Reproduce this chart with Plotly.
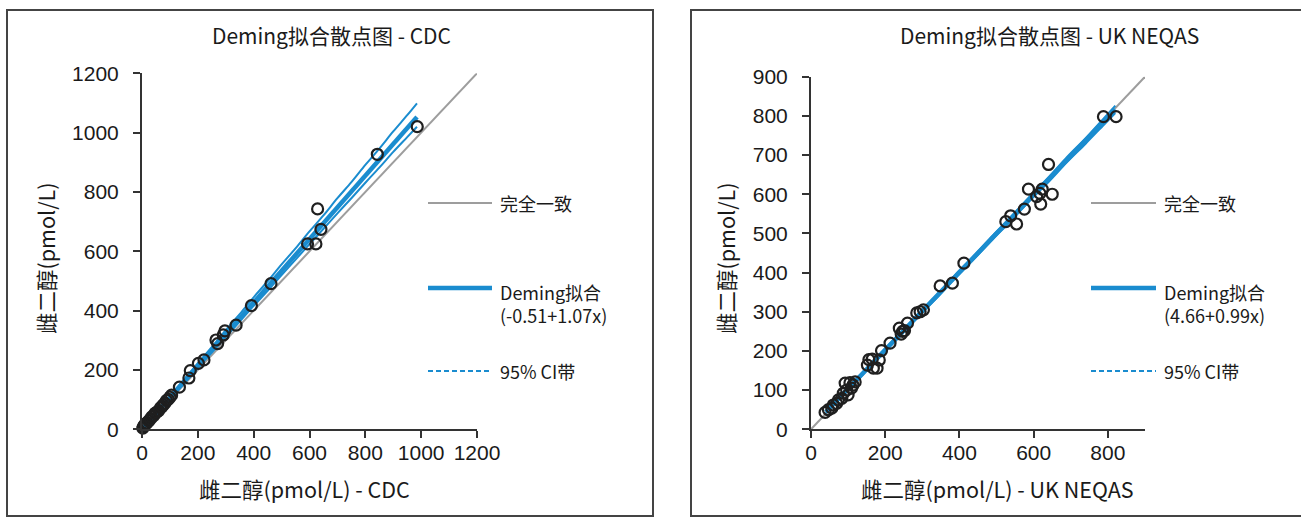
import plotly.graph_objects as go

W, H = 1301, 517

# ---------------- data: CDC panel ----------------
cdc_x = [3, 5, 8, 11, 14, 18, 24, 30, 35, 42, 47, 53, 60, 66, 71, 76, 82, 88, 94, 100, 106,
         134, 168, 173, 202, 222, 265, 271, 291, 297, 337, 392, 462, 593, 623, 629, 641, 843, 986]
cdc_y = [4, 9, 12, 17, 19, 22, 28, 35, 42, 46, 54, 58, 63, 72, 76, 82, 88, 97, 101, 108, 115,
         142, 173, 198, 222, 234, 301, 289, 318, 332, 351, 417, 491, 625, 625, 743, 674, 927, 1020]
cdc_identity = [0, 1200]
cdc_fit_x = [3, 985]
cdc_fit_y = [2.7, 1053]
cdc_ci_x = [0, 50, 100, 150, 200, 250, 300, 350, 400, 450, 500, 550, 600, 650, 700, 750, 800,
            850, 900, 950, 985]
cdc_ci_up = [2, 57, 112, 167, 223, 277, 334, 388, 445, 499, 556, 610, 667, 721, 779, 833, 891,
             946, 1004, 1059, 1099]
cdc_ci_lo = [-3, 50, 103, 154, 207, 259, 311, 363, 416, 467, 520, 572, 624, 676, 728, 779, 831,
             882, 935, 985, 1020]
cdc_ticks = [0, 200, 400, 600, 800, 1000, 1200]

# ---------------- data: UK NEQAS panel ----------------
uk_x = [38, 47, 56, 60, 69, 74, 83, 87, 92, 96, 100, 105, 109, 113, 119, 152, 156, 165, 168, 178,
        184, 190, 213, 238, 243, 247, 252, 260, 285, 294, 303, 348, 381, 412, 525, 538, 554,
        575, 586, 608, 617, 619, 623, 640, 650, 788, 822]
uk_y = [43, 50, 54, 62, 66, 75, 79, 92, 118, 100, 88, 119, 105, 113, 121, 164, 178, 179, 156, 156,
        177, 201, 220, 258, 243, 250, 252, 271, 297, 300, 305, 366, 373, 424, 530, 545, 524,
        562, 613, 594, 602, 575, 613, 676, 600, 798, 798]
uk_identity = [0, 900]
uk_fit_x = [40, 820]
uk_fit_y = [44.3, 816.5]
uk_ci_x = [40, 90, 140, 190, 240, 290, 340, 390, 440, 490, 540, 590, 640, 690, 740, 790, 820]
uk_ci_up = [46, 97, 145, 197, 245, 296, 344, 396, 444, 495, 543, 595, 643, 695, 743, 795, 826]
uk_ci_lo = [42, 92, 140, 190, 238, 289, 336, 387, 435, 485, 533, 584, 631, 682, 729, 778, 807]
uk_ticks = [0, 100, 200, 300, 400, 500, 600, 700, 800, 900]
uk_xticks = [0, 200, 400, 600, 800]

# ---------------- texts ----------------
titles = ["Deming拟合散点图 - CDC", "Deming拟合散点图 - UK NEQAS"]
x_titles = ["雌二醇(pmol/L) - CDC", "雌二醇(pmol/L) - UK NEQAS"]
y_title = "雌二醇(pmol/L)"
leg_identity = "完全一致"
leg_fit = ["Deming拟合<br>(-0.51+1.07x)", "Deming拟合<br>(4.66+0.99x)"]
leg_ci = "95% CI带"

GRAY = "#9d9d9d"
BLUE = "#1a8ccf"
DARK = "#1a1a1a"
CJK = "Noto Sans CJK SC"
NUM = "Liberation Sans, Arial"


def px(x):
    return x / W


def py(y):
    return 1 - y / H


fig = go.Figure()


def add_panel(ax, ay, ident, ci_x, ci_up, ci_lo, fx, fy, sx, sy):
    fig.add_trace(go.Scatter(x=ident, y=ident, mode="lines", line=dict(color=GRAY, width=2),
                             xaxis=ax, yaxis=ay, hoverinfo="skip", showlegend=False))
    for arr in (ci_up, ci_lo):
        fig.add_trace(go.Scatter(x=ci_x, y=arr, mode="lines", line=dict(color=BLUE, width=2, shape="spline"),
                                 xaxis=ax, yaxis=ay, hoverinfo="skip", showlegend=False))
    fig.add_trace(go.Scatter(x=fx, y=fy, mode="lines", line=dict(color=BLUE, width=4.5),
                             xaxis=ax, yaxis=ay, hoverinfo="skip", showlegend=False))
    fig.add_trace(go.Scatter(x=sx, y=sy, mode="markers", cliponaxis=False,
                             marker=dict(symbol="circle-open", size=11, color="#1f1f1f",
                                         line=dict(width=2.2, color="#1f1f1f")),
                             xaxis=ax, yaxis=ay, showlegend=False))


add_panel("x", "y", cdc_identity, cdc_ci_x, cdc_ci_up, cdc_ci_lo, cdc_fit_x, cdc_fit_y, cdc_x, cdc_y)
add_panel("x2", "y2", uk_identity, uk_ci_x, uk_ci_up, uk_ci_lo, uk_fit_x, uk_fit_y, uk_x, uk_y)

axis_common = dict(showline=True, linecolor="#333333", linewidth=2, ticks="outside", ticklen=7,
                   tickwidth=2, tickcolor="#333333", showgrid=False, zeroline=False, automargin=False,
                   tickfont=dict(family=NUM, size=21, color=DARK), fixedrange=True)

fig.update_layout(
    width=W, height=H, margin=dict(l=0, r=0, t=0, b=0, pad=0, autoexpand=False),
    paper_bgcolor="white", plot_bgcolor="white", showlegend=False,
    xaxis=dict(axis_common, domain=[px(142), px(477)], range=[0, 1200], tickvals=cdc_ticks,
               anchor="y", ticklabelstandoff=-4),
    yaxis=dict(axis_common, domain=[py(429.3), py(73.3)], range=[0, 1200], tickvals=cdc_ticks,
               anchor="x", ticklabelstandoff=10),
    xaxis2=dict(axis_common, domain=[px(811), px(1145)], range=[0, 900], tickvals=uk_xticks,
                anchor="y2", ticklabelstandoff=-4),
    yaxis2=dict(axis_common, domain=[py(429.3), py(76.7)], range=[0, 900], tickvals=uk_ticks,
                anchor="x2", ticklabelstandoff=10),
)

shapes = []
# panel borders
shapes.append(dict(type="rect", xref="paper", yref="paper", x0=px(7), x1=px(653), y0=py(516), y1=py(10),
                   line=dict(color="#444444", width=2), fillcolor="rgba(0,0,0,0)", layer="below"))
shapes.append(dict(type="rect", xref="paper", yref="paper", x0=px(691), x1=px(1320), y0=py(516), y1=py(10),
                   line=dict(color="#444444", width=2), fillcolor="rgba(0,0,0,0)", layer="below"))

annotations = []
legend_pos = [(428, 492, 498), (1091, 1156, 1162)]
title_cx = [331, 1049]
xt_cx = [304, 997]
yt_cx = [45, 725]
for i in range(2):
    l0, l1, tx = legend_pos[i]
    shapes.append(dict(type="line", xref="paper", yref="paper", x0=px(l0), x1=px(l1), y0=py(203), y1=py(203),
                       line=dict(color=GRAY, width=2)))
    shapes.append(dict(type="line", xref="paper", yref="paper", x0=px(l0), x1=px(l1), y0=py(288), y1=py(288),
                       line=dict(color=BLUE, width=4.5)))
    shapes.append(dict(type="line", xref="paper", yref="paper", x0=px(l0), x1=px(l1), y0=py(371), y1=py(371),
                       line=dict(color=BLUE, width=2, dash="5px,3px")))
    annotations.append(dict(text=leg_identity, x=px(tx), y=py(203), xref="paper", yref="paper",
                            xanchor="left", yanchor="middle", showarrow=False,
                            font=dict(family=CJK, size=18, color=DARK)))
    annotations.append(dict(text=leg_fit[i], x=px(tx), y=py(276.5), xref="paper", yref="paper",
                            xanchor="left", yanchor="top", align="left", showarrow=False,
                            font=dict(family=CJK, size=18, color=DARK)))
    annotations.append(dict(text=leg_ci, x=px(tx), y=py(371), xref="paper", yref="paper",
                            xanchor="left", yanchor="middle", showarrow=False,
                            font=dict(family=CJK, size=18, color=DARK)))
    annotations.append(dict(text=titles[i], x=px(title_cx[i]), y=py(35), xref="paper", yref="paper",
                            xanchor="center", yanchor="middle", showarrow=False,
                            font=dict(family=CJK, size=21, color=DARK)))
    annotations.append(dict(text=x_titles[i], x=px(xt_cx[i]), y=py(488), xref="paper", yref="paper",
                            xanchor="center", yanchor="middle", showarrow=False,
                            font=dict(family=CJK, size=21.5, color=DARK)))
    annotations.append(dict(text=y_title, x=px(yt_cx[i]), y=py(258), xref="paper", yref="paper",
                            xanchor="center", yanchor="middle", showarrow=False, textangle=-90,
                            font=dict(family=CJK, size=21.5, color=DARK)))

fig.update_layout(shapes=shapes, annotations=annotations)
fig.write_html("out.html")
